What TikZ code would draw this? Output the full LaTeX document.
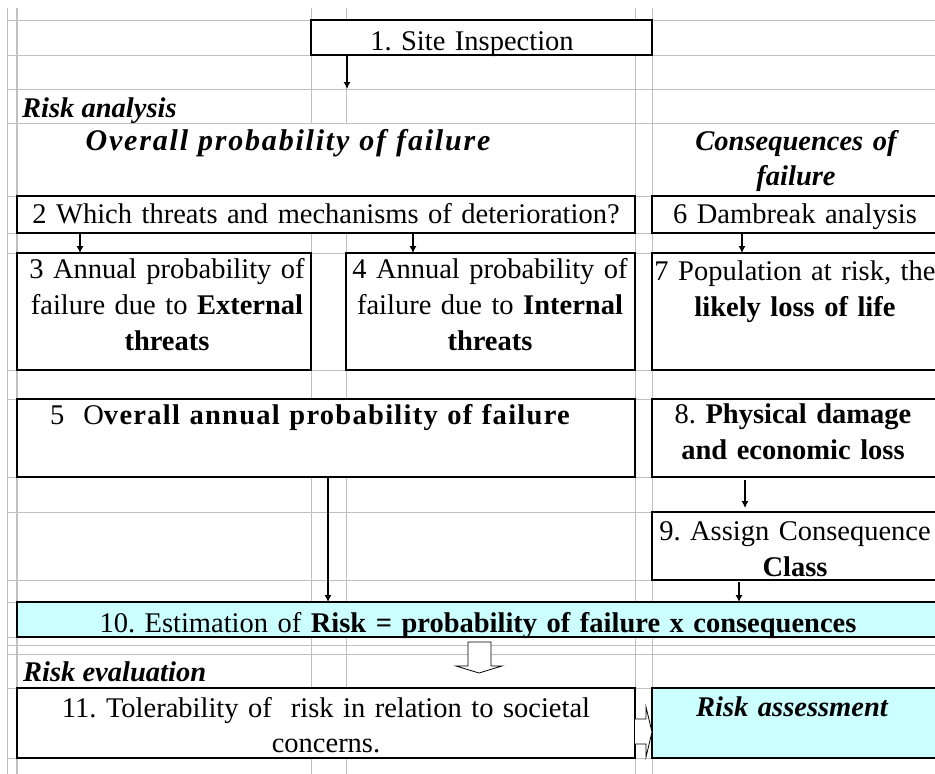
\documentclass[tikz,border=0pt]{standalone}
\usepackage{fontspec}
\setmainfont{Liberation Serif}
\usetikzlibrary{arrows.meta}
\frenchspacing

\begin{document}
\begin{tikzpicture}[x=1pt, y=-1pt, >={Latex[length=7pt, width=7pt]},
    font=\fontsize{28.5}{36}\selectfont]
\definecolor{gridgray}{RGB}{192,192,192}
\definecolor{riskcyan}{RGB}{204,255,255}
\tikzset{
    grid line/.style={gridgray, line width=1pt},
    cell/.style={draw, line width=1.2pt, fill=white, anchor=north west, inner sep=0pt, outer sep=0pt},
    cell text/.style={anchor=base, align=center, text width=800pt, inner sep=0pt},
    head text/.style={cell text, font=\fontsize{28.5}{35}\selectfont\bfseries\itshape},
    flow/.style={->, line width=1.1pt},
    block arrow/.style={draw, fill=white, line width=0.8pt, line join=miter}
}
\useasboundingbox (0,0) rectangle (935,774);
\clip (0,0) rectangle (935,774);
% sheet grid
\foreach \y in {20,55,89,123,196,233,253,370,399,477,512,580,602,637,645,654,688,758}
    \draw[grid line] (7,\y) -- (935,\y);
\foreach \x in {7,311,346,635,652}
    \draw[grid line] (\x,8) -- (\x,774);
\draw[grid line, line width=1.7pt] (17,8) -- (17,774);
\fill[white] (18,124) rectangle (634,195);
% boxes
\node[cell, minimum width=341pt, minimum height=35pt] (b1) at (311,20) {};
\node[cell, minimum width=618pt, minimum height=37pt] (b2) at (17,196) {};
\node[cell, minimum width=290pt, minimum height=37pt] (b6) at (652,196) {};
\node[cell, minimum width=294pt, minimum height=117pt] (b3) at (17,253) {};
\node[cell, minimum width=289pt, minimum height=117pt] (b4) at (346,253) {};
\node[cell, minimum width=290pt, minimum height=117pt] (b7) at (652,253) {};
\node[cell, minimum width=618pt, minimum height=78pt] (b5) at (17,399) {};
\node[cell, minimum width=290pt, minimum height=78pt] (b8) at (652,399) {};
\node[cell, minimum width=290pt, minimum height=68pt] (b9) at (652,512) {};
\node[cell, fill=riskcyan, minimum width=925pt, minimum height=35pt] (b10) at (17,602) {};
\node[cell, minimum width=618pt, minimum height=70pt] (b11) at (17,688) {};
\node[cell, fill=riskcyan, minimum width=290pt, minimum height=70pt] (assess) at (652,688) {};
% texts
\node[cell text] (t1) at (472,50) {1. Site Inspection};
\node[cell text, font=\fontsize{28.5}{35}\selectfont\bfseries\itshape, anchor=base west, text width=] (analysis) at (22,117) {Risk analysis};
\node[head text, font=\fontsize{30}{35}\selectfont\bfseries\itshape\addfontfeatures{LetterSpace=6}] (prob) at (288,150) {Overall probability of failure};
\node[head text] (cons) at (796,150) {Consequences of\\failure};
\node[cell text] (t2) at (326,223) {2 Which threats and mechanisms of deterioration?};
\node[cell text] (t6) at (795,223) {6 Dambreak analysis};
\node[cell text] (t3) at (167,278) {3 Annual probability of\\failure due to \textbf{External}\\\textbf{threats}};
\node[cell text] (t4) at (490,278) {4 Annual probability of\\failure due to \textbf{Internal}\\\textbf{threats}};
\node[cell text] (t7) at (795,280) {7 Population at risk, the\\\textbf{likely loss of life}};
\node[cell text] (t5) at (310,424) {5\ \ O{\bfseries\addfontfeatures{LetterSpace=4.5}verall annual probability of failure}};
\node[cell text] (t8) at (793,423) {8. \textbf{Physical damage}\\\textbf{and economic loss}};
\node[cell text] (t9) at (795,540) {9. Assign Consequence\\\textbf{Class}};
\node[cell text] (t10) at (478,632) {10. Estimation of \textbf{Risk = probability of failure x consequences}};
\node[cell text, font=\fontsize{28.5}{35}\selectfont\bfseries\itshape, anchor=base west, text width=] (evaluation) at (23,681) {Risk evaluation};
\node[cell text, font=\fontsize{28.5}{35}\selectfont] (t11) at (326,717) {11. Tolerability of\ \ risk in relation to societal\\concerns.};
\node[head text] (tassess) at (792,716) {Risk assessment};
% connectors
\coordinate (c1) at (347,89);
\coordinate (p3) at (80,0);
\coordinate (p4) at (413,0);
\coordinate (p7) at (742,0);
\coordinate (p9) at (745,0);
\coordinate (p10a) at (328,0);
\coordinate (p10b) at (739,0);
\draw[flow] (b1.south -| c1) -- (c1);
\draw[flow] (b2.south -| p3) -- (b3.north -| p3);
\draw[flow] (b2.south -| p4) -- (b4.north -| p4);
\draw[flow] (b6.south -| p7) -- (b7.north -| p7);
\draw[flow, shorten <=3pt, shorten >=4pt] (b8.south -| p9) -- (b9.north -| p9);
\draw[flow, shorten <=2pt] (b9.south -| p10b) -- (b10.north -| p10b);
\draw[flow] (b5.south -| p10a) -- (b10.north -| p10a);
% block arrows
\draw[block arrow] (468,642) -- (491,642) -- (491,666) -- (502,666) -- (479,673)
    -- (456,666) -- (468,666) -- cycle;
\draw[block arrow] (635,719) -- (646,719) -- (646,707) -- (652,732) -- (646,757)
    -- (646,744) -- (635,744);
\end{tikzpicture}
\end{document}
